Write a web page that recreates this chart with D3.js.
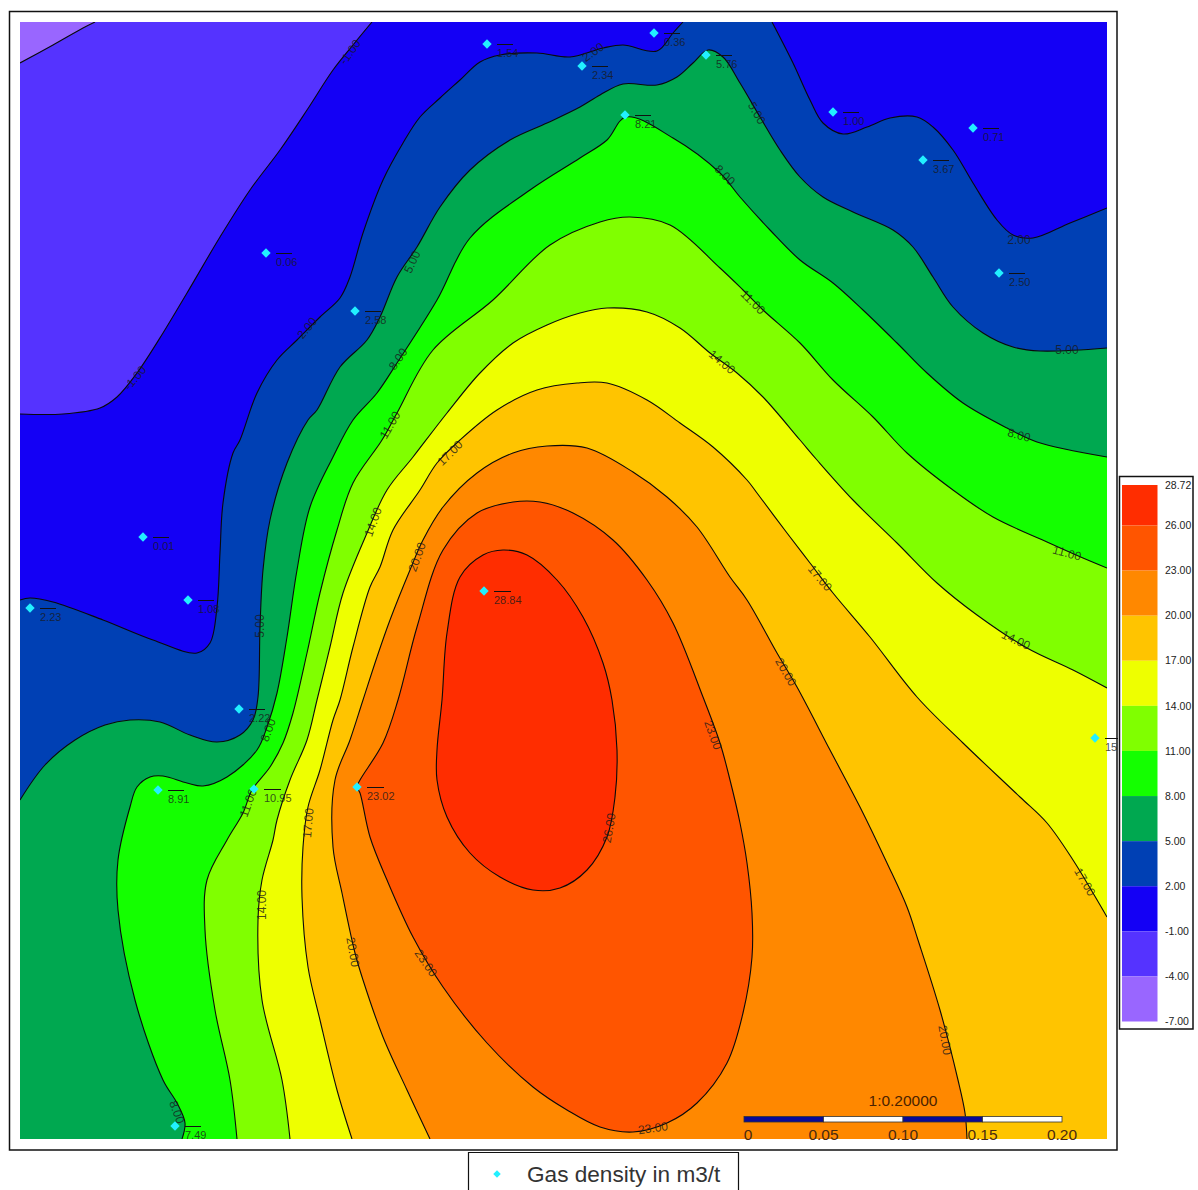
<!DOCTYPE html>
<html><head><meta charset="utf-8">
<script src="https://cdn.jsdelivr.net/npm/d3@7"></script>
<style>html,body{margin:0;background:#fff}svg{display:block}text{font-family:"Liberation Sans",Arial,sans-serif}</style>
</head><body><svg id="c" width="1198" height="1190"></svg>
<script>
// ---- data: map grid units, origin at the map's top-left corner ----
const mapWidth = 1087, mapHeight = 1117;
const legendTicks = [28.72, 26, 23, 20, 17, 14, 11, 8, 5, 2, -1, -4, -7];
const bandColors = ["#FF2D00","#FF5500","#FF8800","#FFC400","#EEFF00","#80FF00","#14FF00","#00A850","#0040B4","#1400F5","#5533FF","#9966FF"];
const iso_m4 = [[0,41],[33,23],[63,6],[75,0]];
const iso_m1 = [[352,0],[333,23],[313,48],[287,88],[260,128],[230,168],[200,215],[167,271],[143,311],[117,351],[97,375],[80,386],[43,392],[0,392]];
const iso_2a = [[0,578],[10,576],[33,580],[83,598],[133,618],[177,631],[190,621],[197,585],[200,531],[203,481],[213,431],[220,418],[237,371],[257,338],[277,318],[300,295],[320,276],[330,255],[343,211],[363,158],[383,121],[400,95],[420,76],[440,58],[460,40],[480,33],[517,31],[550,35],[583,26],[603,23],[637,29],[653,11],[663,0]];
const iso_2b = [[752,0],[773,41],[790,78],[803,101],[823,112],[847,105],[870,96],[897,95],[913,105],[933,128],[953,161],[977,198],[993,213],[1013,216],[1050,201],[1087,186]];
const iso_5 = [[0,778],[25,743],[55,718],[85,703],[110,698],[140,700],[170,713],[197,720],[220,713],[233,698],[238,675],[240,605],[243,548],[250,498],[267,441],[288,398],[297,388],[320,345],[347,318],[360,295],[377,255],[397,225],[420,185],[450,148],[490,118],[527,101],[560,85],[580,73],[603,62],[637,63],[657,55],[673,41],[688,28],[703,35],[720,61],[740,95],[760,128],[780,155],[803,175],[833,190],[873,208],[893,225],[913,255],[933,285],[963,311],[993,325],[1020,329],[1087,326]];
const iso_8 = [[162,1117],[165,1101],[157,1081],[143,1058],[115,978],[98,888],[98,838],[110,785],[117,765],[130,755],[143,754],[167,761],[183,764],[207,755],[237,728],[247,705],[257,671],[267,615],[277,548],[290,485],[313,435],[333,398],[357,371],[377,341],[417,278],[450,216],[510,168],[560,136],[587,118],[606,95],[653,116],[700,151],[720,175],[750,208],[780,238],[813,261],[843,288],[877,321],[907,351],[943,381],[987,406],[1017,420],[1087,435]];
const iso_11 = [[217,1117],[210,1058],[195,988],[185,908],[187,858],[207,818],[223,791],[232,768],[250,745],[263,721],[273,691],[287,631],[300,571],[317,508],[333,461],[362,418],[377,391],[413,328],[473,278],[530,223],[580,200],[610,195],[650,203],[700,246],[723,268],[743,288],[780,321],[813,358],[853,395],[887,431],[933,468],[973,495],[1027,520],[1063,536],[1087,546]];
const iso_14 = [[270,1117],[262,1058],[242,978],[238,898],[242,858],[253,818],[257,798],[270,758],[287,718],[297,678],[310,625],[323,571],[347,511],[367,468],[393,435],[427,391],[460,351],[493,321],[527,303],[560,291],[587,286],[627,290],[660,306],[690,331],[717,351],[743,375],[780,418],[797,438],[833,478],[877,521],[917,561],[957,593],[1007,626],[1053,648],[1087,666]];
const iso_17 = [[332,1117],[317,1068],[300,998],[288,945],[282,875],[283,825],[288,785],[300,748],[313,698],[320,678],[333,625],[350,565],[360,545],[373,508],[400,468],[417,441],[440,418],[477,388],[517,368],[557,361],[587,361],[627,378],[660,401],[693,425],[727,458],[737,471],[767,511],[790,541],[813,571],[850,615],[897,675],[943,721],[1000,775],[1027,801],[1053,838],[1073,871],[1087,895]];
const iso_20 = [[410,1117],[387,1068],[363,1015],[343,958],[335,931],[322,871],[313,825],[315,758],[330,718],[343,678],[357,635],[370,598],[390,548],[403,518],[423,485],[457,451],[493,431],[527,424],[567,426],[613,450],[647,475],[677,505],[710,555],[727,578],[757,631],[777,665],[810,728],[840,785],[867,841],[887,885],[898,918],[920,988],[938,1058],[945,1091],[947,1117]];
const iso_23 = [[337,765],[340,771],[350,815],[367,858],[393,915],[423,965],[467,1021],[513,1065],[547,1088],[580,1105],[613,1110],[647,1101],[677,1081],[707,1041],[723,991],[732,935],[732,891],[727,841],[720,801],[710,758],[700,721],[683,675],[653,601],[627,558],[593,518],[553,491],[520,480],[493,480],[457,491],[423,528],[397,605],[378,678],[363,721],[340,758]];
const iso_26 = [[417,758],[427,795],[450,831],[480,855],[513,868],[540,866],[567,848],[587,815],[595,775],[597,728],[592,678],[583,641],[563,595],[537,558],[507,533],[483,528],[463,533],[440,555],[427,611],[422,678],[417,728]];
const wellNames = ["1.54","0.36","5.76","2.34","8.21","1.00","0.71","3.67","2.50","0.06","2.58","0.01","1.08","2.23","28.84","2.22","8.91","10.95","23.02","15","7.49"];
const wellX = [467,634,686,562,605,813,953,903,979,246,335,123,168,10,464,219,138,234,337,1075,155];
const wellY = [22,11,33,44,93,90,106,138,251,231,289,515,578,586,569,687,768,767,765,716,1104];
const isoLabelText = ["-1.00","-1.00","2.00","2.00","2.00","5.00","5.00","5.00","5.00","8.00","8.00","8.00","8.00","8.00","11.00","11.00","11.00","11.00","14.00","14.00","14.00","14.00","17.00","17.00","17.00","17.00","20.00","20.00","20.00","20.00","23.00","23.00","23.00","26.00"];
const isoLabelX = [330,115,287,573,999,392,240,737,1047,378,248,705,999,157,370,228,733,1047,353,242,702,996,430,288,800,1065,397,333,766,925,406,633,693,589];
const isoLabelY = [30,356,306,30,218,240,604,91,328,337,708,153,413,1090,403,781,280,531,500,883,340,618,431,801,556,860,535,930,650,1018,941,1106,713,806];
const isoLabelAngle = [-55,-50,-50,-35,0,-65,-90,60,0,-55,-70,45,15,70,-60,-70,45,15,-70,-90,40,25,-45,-85,50,60,-70,80,60,80,55,-8,70,-80];
const scaleBarTicks = [0, 0.05, 0.10, 0.15, 0.20];
const scaleBarTitle = "1:0.20000";
const legendLabel = "Gas density in m3/t";

// ---- scales ----
const x = d3.scaleLinear().domain([0,mapWidth]).range([20,1107]);
const y = d3.scaleLinear().domain([0,mapHeight]).range([22,1139]);
const line = d3.line().x(d=>x(d[0])).y(d=>y(d[1])).curve(d3.curveCatmullRom.alpha(0.5));
const closedLine = d3.line().x(d=>x(d[0])).y(d=>y(d[1])).curve(d3.curveCatmullRomClosed.alpha(0.5));
const pad = 30;
const TR=[mapWidth+pad,-pad],BR=[mapWidth+pad,mapHeight+pad],BL=[-pad,mapHeight+pad];
const levels = [
 {segs:[iso_m4],corners:[TR,BR,BL],color:bandColors[10]},
 {segs:[iso_m1],corners:[BL,BR,TR],color:bandColors[9]},
 {segs:[iso_2a,iso_2b],corners:[BR,BL],color:bandColors[8]},
 {segs:[iso_5],corners:[BR,BL],color:bandColors[7]},
 {segs:[iso_8],corners:[BR],color:bandColors[6]},
 {segs:[iso_11],corners:[BR],color:bandColors[5]},
 {segs:[iso_14],corners:[BR],color:bandColors[4]},
 {segs:[iso_17],corners:[BR],color:bandColors[3]},
 {segs:[iso_20],corners:[],color:bandColors[2]},
 {closed:iso_23,color:bandColors[1]},
 {closed:iso_26,color:bandColors[0]}
];
const svg = d3.select("#c");
const dark = "#1a1a1a";
const defs = svg.append("defs");
defs.append("clipPath").attr("id","map").append("rect").attr("x",x(0)).attr("y",y(0)).attr("width",x(mapWidth)-x(0)).attr("height",y(mapHeight)-y(0));
defs.append("clipPath").attr("id","frameClip").append("rect").attr("x",9).attr("y",11).attr("width",1109).attr("height",1139);

// frame
svg.append("rect").attr("x",9.5).attr("y",11.5).attr("width",1107.5).attr("height",1138.5).attr("fill","#fff").attr("stroke","#111").attr("stroke-width",1.5);

// filled bands and contour lines
const g = svg.append("g").attr("clip-path","url(#map)");
g.append("rect").attr("x",x(0)).attr("y",y(0)).attr("width",x(mapWidth)-x(0)).attr("height",y(mapHeight)-y(0)).attr("fill",bandColors[11]);
levels.forEach(l=>{
  let d;
  if(l.closed){ d = closedLine(l.closed); }
  else {
    d = l.segs.map((s,i)=> i? line(s).replace(/^M/,"L") : line(s)).join("");
    l.corners.forEach(c=>{ d += "L"+x(c[0])+","+y(c[1]); });
    d += "Z";
  }
  g.append("path").attr("d",d).attr("fill",l.color);
  if(l.closed) g.append("path").attr("d",d).attr("fill","none").attr("stroke","#0a0a0a").attr("stroke-width",1.1);
  else l.segs.forEach(s=> g.append("path").attr("d",line(s)).attr("fill","none").attr("stroke","#0a0a0a").attr("stroke-width",1.1));
});
// contour labels
isoLabelText.forEach((t,i)=>{
  svg.append("text").text(t)
    .attr("transform",`translate(${x(isoLabelX[i])},${y(isoLabelY[i])}) rotate(${isoLabelAngle[i]})`)
    .attr("text-anchor","middle").attr("dy","0.35em").attr("font-size",12).attr("fill",dark).attr("fill-opacity",0.8);
});
// wells
const wells = svg.append("g").attr("clip-path","url(#frameClip)");
const diamond = d3.symbol().type(d3.symbolSquare).size(44);
wellNames.forEach((t,i)=>{
  const px=x(wellX[i]),py=y(wellY[i]);
  wells.append("path").attr("d",diamond()).attr("transform",`translate(${px},${py}) rotate(45)`).attr("fill","#22F0FF");
  wells.append("line").attr("x1",px+10).attr("x2",px+(t.length>4?27:t.length>2?26:40)).attr("y1",py+0.5).attr("y2",py+0.5).attr("stroke","#111").attr("stroke-width",1);
  wells.append("text").text(t).attr("x",px+10).attr("y",py+13).attr("font-size",11).attr("fill",dark).attr("fill-opacity",0.8);
});

// scale bar
const sb = d3.scaleLinear().domain([0,0.20]).range([744,1062]);
svg.append("text").text(scaleBarTitle).attr("x",sb(0.1)).attr("y",1106).attr("text-anchor","middle").attr("font-size",15.5).attr("fill","#4a2200");
scaleBarTicks.slice(0,-1).forEach((v,i)=>{
  svg.append("rect").attr("x",sb(v)).attr("y",1116.5).attr("width",sb(scaleBarTicks[i+1])-sb(v)).attr("height",5.5)
    .attr("fill",i%2?"#fff":"#0A0A96").attr("stroke","#333").attr("stroke-width",0.8);
});
scaleBarTicks.forEach((v,i)=>{
  svg.append("text").text(v===0?"0":v.toFixed(2)).attr("x",i? sb(v):748).attr("y",1140).attr("text-anchor","middle").attr("font-size",15.5).attr("fill","#4a2a10");
});

// colour legend
svg.append("rect").attr("x",1119.5).attr("y",476.5).attr("width",73.5).attr("height",552.5).attr("fill","#fff").attr("stroke","#111").attr("stroke-width",1.5);
const ly = d3.scaleLinear().domain([-7,26,28.72]).range([1021.5,525.5,485]);
bandColors.forEach((c,i)=>{
  svg.append("rect").attr("x",1122).attr("width",35.5).attr("y",ly(legendTicks[i])).attr("height",ly(legendTicks[i+1])-ly(legendTicks[i])).attr("fill",c);
});
legendTicks.forEach(v=>{
  svg.append("text").text(v.toFixed(2)).attr("x",1165).attr("y",ly(v)).attr("dy","0.35em").attr("font-size",10.5).attr("fill","#222");
});

// bottom key
svg.append("path").attr("d","M468.5,1190V1152.5H738.5V1190").attr("fill","#fff").attr("stroke","#111").attr("stroke-width",1.2);
svg.append("path").attr("d",d3.symbol().type(d3.symbolSquare).size(28)()).attr("transform","translate(497,1174) rotate(45)").attr("fill","#22F0FF");
svg.append("text").text(legendLabel).attr("x",527).attr("y",1182).attr("font-size",22.6).attr("fill","#333");
</script></body></html>
